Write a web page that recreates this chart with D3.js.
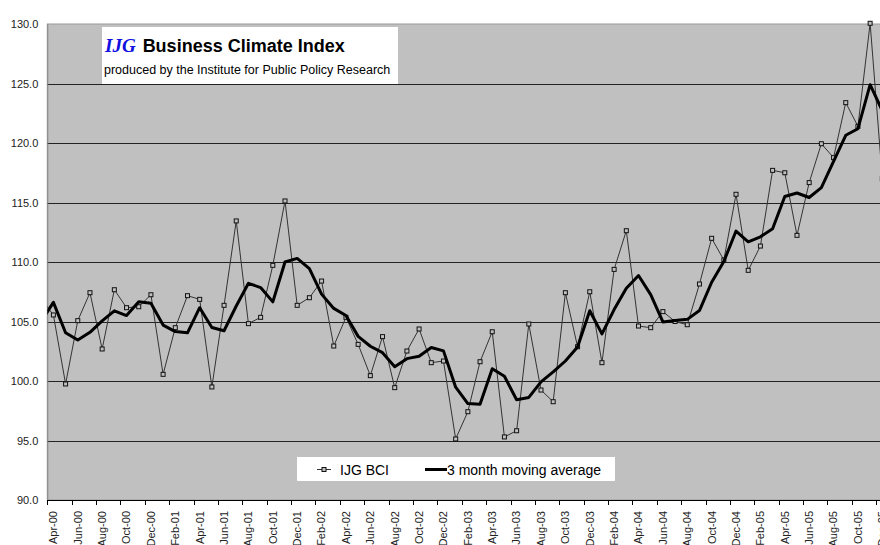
<!DOCTYPE html>
<html>
<head>
<meta charset="utf-8">
<script src="https://cdn.jsdelivr.net/npm/d3@7"></script>
<style>
  body { margin: 0; background: #fff; }
  svg { display: block; font-family: "Liberation Sans", Arial, sans-serif; }
</style>
</head>
<body>
<div id="vis-container"></div>
<script>
// months shown (Mar-00 sits just left of the axis and is clipped)
let months = ["Mar-00","Apr-00","May-00","Jun-00","Jul-00","Aug-00","Sep-00","Oct-00","Nov-00","Dec-00",
  "Jan-01","Feb-01","Mar-01","Apr-01","May-01","Jun-01","Jul-01","Aug-01","Sep-01","Oct-01","Nov-01","Dec-01",
  "Jan-02","Feb-02","Mar-02","Apr-02","May-02","Jun-02","Jul-02","Aug-02","Sep-02","Oct-02","Nov-02","Dec-02",
  "Jan-03","Feb-03","Mar-03","Apr-03","May-03","Jun-03","Jul-03","Aug-03","Sep-03","Oct-03","Nov-03","Dec-03",
  "Jan-04","Feb-04","Mar-04","Apr-04","May-04","Jun-04","Jul-04","Aug-04","Sep-04","Oct-04","Nov-04","Dec-04",
  "Jan-05","Feb-05","Mar-05","Apr-05","May-05","Jun-05","Jul-05","Aug-05","Sep-05","Oct-05","Nov-05","Dec-05"];

let bci = [106.9,105.55,99.75,105.07,107.42,102.69,107.67,106.16,106.24,107.25,
  100.56,104.48,107.17,106.86,99.5,106.36,113.45,104.82,105.35,109.72,115.13,106.36,
  107.0,108.4,102.94,105.35,103.08,100.45,103.73,99.44,102.52,104.37,101.54,101.68,
  95.13,97.42,101.62,104.14,95.3,95.82,104.79,99.24,98.26,107.42,102.88,107.5,
  101.54,109.38,112.63,104.62,104.48,105.83,105.0,104.73,108.15,111.99,110.17,115.69,
  109.3,111.34,117.7,117.5,112.24,116.67,119.94,118.77,123.39,121.4,130.06,117.0];

let ma3 = [105.0,106.61,104.06,103.44,104.09,105.05,105.9,105.5,106.65,106.54,
  104.7,104.15,104.05,106.16,104.5,104.22,106.3,108.21,107.85,106.65,110.0,110.3,
  109.45,107.3,106.1,105.5,103.75,102.92,102.38,101.2,101.88,102.08,102.82,102.53,
  99.48,98.1,98.05,101.03,100.4,98.42,98.62,99.93,100.76,101.68,102.86,105.9,
  103.96,106.0,107.8,108.86,107.26,104.96,105.08,105.18,105.92,108.3,110.05,112.6,
  111.7,112.12,112.8,115.5,115.8,115.42,116.25,118.45,120.65,121.2,124.9,122.7];

let yTicks = [90,95,100,105,110,115,120,125,130];
let xTickMonths = months.filter((d,i)=>i%2===1);

let w = 880;
let h = 545;
let plotLeft = 47.3, plotTop = 24, plotBottom = 500;
let step = 12.19;

let svg = d3.select("#vis-container")
  .append("svg")
  .attr("width", w)
  .attr("height", h);

let x = d3.scaleBand()
  .domain(months)
  .range([plotLeft - step, plotLeft - step + months.length*step])
  .padding(0);

let y = d3.scaleLinear()
  .domain([90,130])
  .range([plotBottom, plotTop]);

let plotRight = x.range()[1];

svg.append("defs").append("clipPath").attr("id","plot")
  .append("rect")
  .attr("x", plotLeft).attr("y", plotTop - 5)
  .attr("width", plotRight - plotLeft).attr("height", plotBottom - plotTop + 5);

// plot background
svg.append("rect")
  .attr("x", plotLeft).attr("y", plotTop)
  .attr("width", plotRight - plotLeft).attr("height", plotBottom - plotTop)
  .attr("fill", "#c0c0c0")
  .attr("stroke", "#999")
  .attr("stroke-width", 1);

// gridlines
svg.append("g")
  .selectAll("line")
  .data(yTicks.filter(d=>d>90 && d<130))
  .enter()
  .append("line")
  .attr("x1", plotLeft).attr("x2", plotRight)
  .attr("y1", d=>Math.round(y(d))+0.5)
  .attr("y2", d=>Math.round(y(d))+0.5)
  .attr("stroke", "#222")
  .attr("stroke-width", 1);

// y labels
let yAxis = svg.append("g")
  .attr("transform", `translate(${plotLeft},0)`)
  .call(d3.axisLeft(y).tickValues(yTicks).tickFormat(d3.format(".1f")).tickSize(0).tickPadding(9));
yAxis.select(".domain").attr("stroke", "#888");
yAxis.selectAll("text")
  .attr("font-size", "11px")
  .attr("fill", "#222")
  .attr("font-family", "Liberation Sans, Arial, sans-serif");

// x axis line and tick marks at category boundaries
svg.append("line")
  .attr("x1", plotLeft).attr("x2", plotRight)
  .attr("y1", plotBottom + 0.5).attr("y2", plotBottom + 0.5)
  .attr("stroke", "#000");

svg.append("g")
  .selectAll("line")
  .data(xTickMonths)
  .enter()
  .append("line")
  .attr("x1", d=>Math.round(x(d))+0.5)
  .attr("x2", d=>Math.round(x(d))+0.5)
  .attr("y1", plotBottom)
  .attr("y2", plotBottom + 5)
  .attr("stroke", "#000");

// x labels, centred on the category
svg.append("g")
  .selectAll("text")
  .data(xTickMonths)
  .enter()
  .append("text")
  .attr("transform", d=>`translate(${x(d) + x.bandwidth()/2},511) rotate(-90)`)
  .attr("text-anchor", "end")
  .attr("dy", "0.35em")
  .attr("font-size", "11px")
  .attr("fill", "#222")
  .text(d=>d);

let plot = svg.append("g").attr("clip-path", "url(#plot)");

let line = d3.line()
  .x((d,i)=>x(months[i]) + x.bandwidth()/2)
  .y(d=>y(d));

plot.append("path")
  .datum(bci)
  .attr("d", line)
  .attr("fill", "none")
  .attr("stroke", "#333")
  .attr("stroke-width", 1);

plot.selectAll("rect.mk")
  .data(bci)
  .enter()
  .append("rect")
  .attr("class", "mk")
  .attr("x", (d,i)=>x(months[i]) + x.bandwidth()/2 - 2)
  .attr("y", d=>y(d) - 2)
  .attr("width", 4).attr("height", 4)
  .attr("fill", "#c0c0c0")
  .attr("stroke", "#111")
  .attr("stroke-width", 1);

plot.append("path")
  .datum(ma3)
  .attr("d", line)
  .attr("fill", "none")
  .attr("stroke", "#000")
  .attr("stroke-width", 3)
  .attr("stroke-linejoin", "round");

// title box
svg.append("rect")
  .attr("x", 102).attr("y", 27)
  .attr("width", 296).attr("height", 57)
  .attr("fill", "#fff");

let title = svg.append("text")
  .attr("x", 105).attr("y", 52);
title.append("tspan")
  .attr("font-family", "Liberation Serif, Times New Roman, serif")
  .attr("font-style", "italic")
  .attr("font-weight", "bold")
  .attr("font-size", "19px")
  .attr("fill", "#1010e0")
  .text("IJG");
title.append("tspan")
  .attr("dx", 7)
  .attr("font-weight", "bold")
  .attr("font-size", "18px")
  .attr("fill", "#000")
  .text("Business Climate Index");

svg.append("text")
  .attr("x", 104).attr("y", 74)
  .attr("font-size", "12.5px")
  .attr("fill", "#000")
  .text("produced by the Institute for Public Policy Research");

// legend
svg.append("rect")
  .attr("x", 297).attr("y", 457)
  .attr("width", 318).attr("height", 24)
  .attr("fill", "#fff");

svg.append("line")
  .attr("x1", 317).attr("x2", 331).attr("y1", 469.5).attr("y2", 469.5)
  .attr("stroke", "#333");
svg.append("rect")
  .attr("x", 322).attr("y", 467.5).attr("width", 4).attr("height", 4)
  .attr("fill", "#c0c0c0").attr("stroke", "#111");
svg.append("text")
  .attr("x", 340).attr("y", 475)
  .attr("font-size", "14px")
  .text("IJG BCI");

svg.append("line")
  .attr("x1", 425).attr("x2", 447).attr("y1", 469.5).attr("y2", 469.5)
  .attr("stroke", "#000").attr("stroke-width", 3);
svg.append("text")
  .attr("x", 447).attr("y", 475)
  .attr("font-size", "14px")
  .text("3 month moving average");
</script>
</body>
</html>
